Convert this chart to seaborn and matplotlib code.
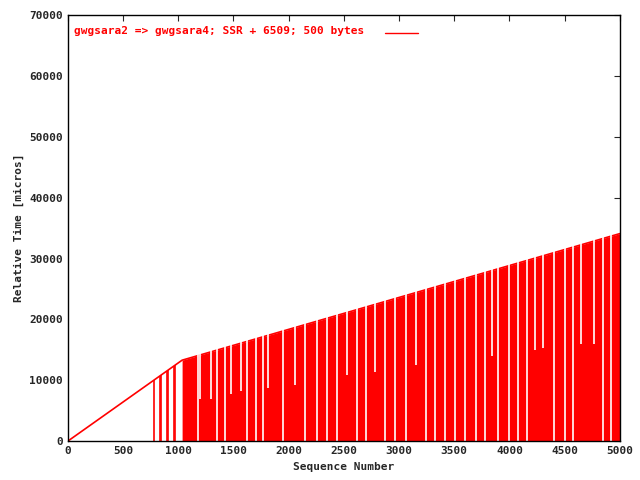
import numpy as np
import matplotlib.pyplot as plt
import seaborn as sns
import pandas as pd

# ramp vertices (sequence number, relative time in micros)
ramp_seq = [0, 1035, 5000]
ramp_time = [0, 13300, 34100]

# early isolated drops to zero (seq) before the dense region
early_drops = [780, 835, 845, 895, 905, 965, 975]

# gaps (white lines) in the dense region: seq and the value they reach down to
gap_seq = [1175, 1200, 1300, 1350, 1420, 1480, 1570, 1625, 1700, 1765, 1810, 1945,
           2060, 2145, 2260, 2350, 2440, 2530, 2620, 2700, 2780, 2870, 2960, 3060,
           3150, 3240, 3330, 3420, 3510, 3600, 3700, 3780, 3840, 3900, 4000, 4080,
           4160, 4230, 4300, 4400, 4500, 4580, 4650, 4770, 4850, 4920]
gap_bottom = [0, 7000, 7000, 0, 0, 7800, 8200, 0, 0, 0, 8800, 0,
              9300, 0, 0, 0, 0, 10800, 0, 0, 11300, 0, 0, 0,
              12500, 0, 0, 0, 0, 0, 0, 0, 14000, 0, 0, 0,
              0, 15000, 15300, 0, 0, 0, 16000, 16000, 0, 0]

red = "#ff0000"
sns.set_style("white")
fig = plt.figure(figsize=(6.4, 4.8), dpi=100)
ax = fig.add_axes([0.106, 0.081, 0.8625, 0.8875])

df = pd.DataFrame({"seq": ramp_seq, "t": ramp_time})
sns.lineplot(data=df, x="seq", y="t", color=red, lw=1.2, ax=ax)

# dense filled region
fill_x = [ramp_seq[1], ramp_seq[2]]
fill_y = [ramp_time[1], ramp_time[2]]
ax.fill_between(fill_x, 0, fill_y, color=red, lw=0)

ramp_at = lambda s: np.interp(s, ramp_seq, ramp_time)
ax.vlines(early_drops, 0, [ramp_at(s) for s in early_drops], color=red, lw=1.2)
ax.vlines(gap_seq, gap_bottom, [ramp_at(s) + 300 for s in gap_seq], color="white", lw=1.2)

ax.set_xlim(0, 5000)
ax.set_ylim(0, 70000)
ax.set_xticks(range(0, 5001, 500))
ax.set_yticks(range(0, 70001, 10000))
mono = {"family": "DejaVu Sans Mono", "weight": "bold", "size": 8}
for lab in ax.get_xticklabels() + ax.get_yticklabels():
    lab.set_fontfamily("DejaVu Sans Mono"); lab.set_fontweight("bold"); lab.set_fontsize(8)
ax.tick_params(direction="in", length=4, top=True, right=True)
ax.set_xlabel("Sequence Number", fontdict=mono)
ax.set_ylabel("Relative Time [micros]", fontdict=mono)
for s in ax.spines.values():
    s.set_color("black"); s.set_linewidth(1)

ax.text(0.012, 0.975, "gwgsara2 => gwgsara4; SSR + 6509; 500 bytes", transform=ax.transAxes,
        color=red, va="top", ha="left", **mono)
ax.plot([0.575, 0.635], [0.959, 0.959], transform=ax.transAxes, color=red, lw=1)

fig.savefig("out.png", dpi=100)
